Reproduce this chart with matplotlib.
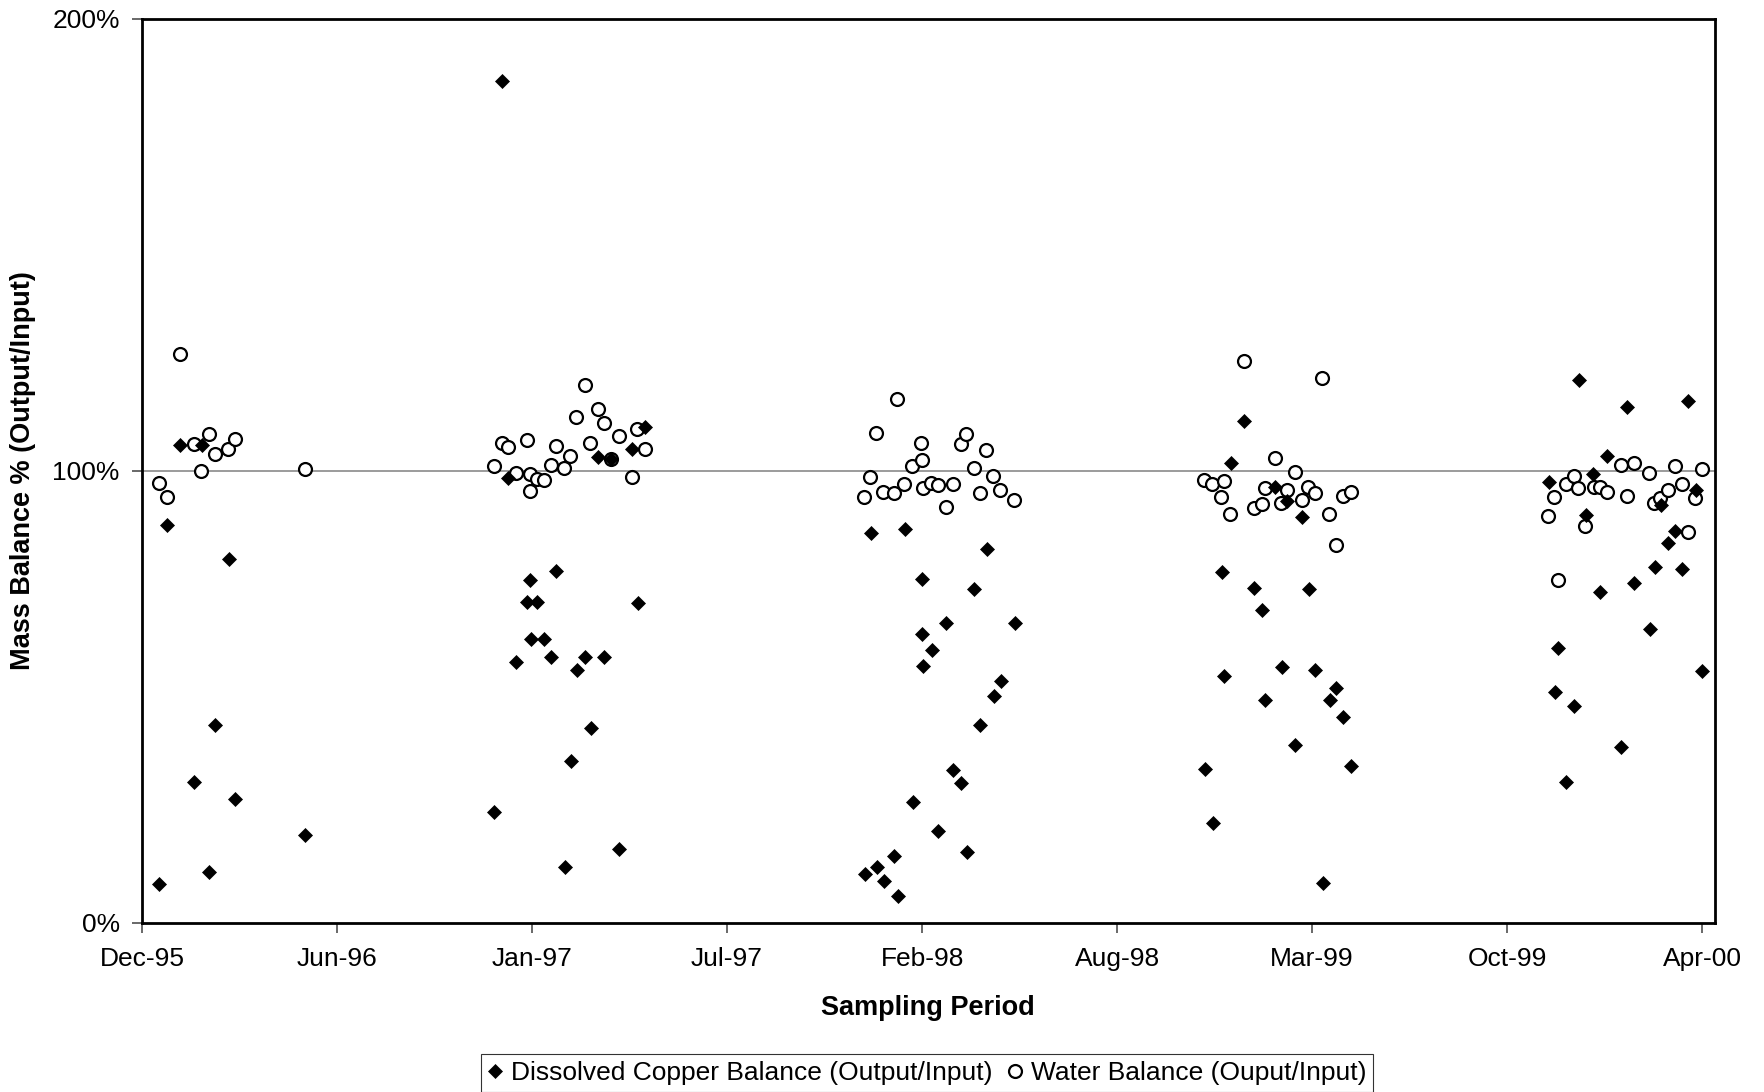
import matplotlib
matplotlib.use("Agg")
import matplotlib.pyplot as plt
import pandas as pd

plt.rcParams['font.family'] = ['Liberation Sans', 'DejaVu Sans']

# ---- data (x: days since 15-Dec-1995, y: percent) ----
copper_days = [17, 25, 39, 53, 61, 68, 74, 88, 94, 165,
               357, 366, 372, 380, 391, 394, 395, 401, 408, 415, 420, 429, 436, 442, 450, 456, 463, 469, 476, 484, 497, 504, 511,
               734, 740, 746, 753, 763, 768, 775, 783, 792, 792, 793, 802, 808, 816, 823, 831, 838, 845, 851, 858, 865, 872, 886,
               1079, 1087, 1096, 1099, 1106, 1119, 1129, 1137, 1140, 1150, 1157, 1162, 1171, 1178, 1185, 1191, 1199, 1206, 1212, 1219, 1227,
               1428, 1435, 1438, 1446, 1454, 1459, 1466, 1473, 1480, 1487, 1502, 1508, 1515, 1531, 1536, 1542, 1549, 1556, 1564, 1570, 1578, 1584]
copper_pct = [8.7, 88.1, 105.8, 31.2, 105.8, 11.3, 43.7, 80.5, 27.4, 19.5,
              24.5, 186.3, 98.4, 57.8, 71.1, 75.9, 62.8, 71.1, 62.8, 58.9, 77.9, 12.3, 35.8, 55.9, 58.9, 43.1, 103.0, 58.8, 102.6, 16.3, 104.9, 70.9, 109.8,
              10.8, 86.2, 12.3, 9.4, 14.9, 6.0, 87.1, 26.8, 64.0, 76.0, 56.9, 60.4, 20.3, 66.3, 33.9, 30.9, 15.7, 74.0, 43.8, 82.7, 50.3, 53.5, 66.4,
              34.1, 22.2, 77.6, 54.7, 101.8, 111.1, 74.1, 69.2, 49.4, 96.5, 56.6, 93.4, 39.4, 89.8, 74.0, 56.0, 8.9, 49.3, 51.9, 45.5, 34.8,
              97.6, 51.2, 60.8, 31.2, 47.9, 120.1, 90.3, 99.3, 73.2, 103.3, 38.9, 114.2, 75.2, 65.1, 78.7, 92.5, 84.1, 86.8, 78.3, 115.5, 95.8, 55.8]

water_days = [17, 25, 39, 53, 60, 68, 74, 87, 94, 165,
              357, 365, 372, 380, 391, 394, 394, 401, 408, 415, 420, 428, 435, 441, 450, 455, 463, 469, 476, 484, 497, 503, 511,
              733, 739, 745, 752, 763, 767, 774, 782, 791, 792, 793, 801, 808, 816, 823, 831, 837, 845, 851, 857, 864, 871, 885,
              1078, 1086, 1095, 1099, 1105, 1119, 1129, 1137, 1140, 1150, 1156, 1162, 1171, 1178, 1184, 1191, 1198, 1205, 1212, 1219, 1227,
              1427, 1434, 1438, 1446, 1454, 1458, 1465, 1474, 1480, 1487, 1502, 1508, 1515, 1530, 1535, 1541, 1549, 1556, 1563, 1570, 1577, 1584]
water_pct = [97.3, 94.3, 125.9, 106.0, 100.1, 108.1, 103.8, 104.9, 107.0, 100.4,
             101.1, 106.1, 105.4, 99.6, 106.9, 95.6, 99.3, 98.2, 98.1, 101.4, 105.5, 100.6, 103.3, 111.9, 119.0, 106.3, 113.7, 110.7, 102.6, 107.7, 98.7, 109.3, 104.9,
             94.2, 98.7, 108.3, 95.4, 95.1, 115.9, 97.1, 101.0, 106.3, 102.4, 96.2, 97.3, 96.9, 92.0, 97.2, 106.0, 108.1, 100.7, 95.1, 104.6, 98.9, 95.9, 93.6,
             98.0, 97.1, 94.3, 97.7, 90.5, 124.4, 91.9, 92.7, 96.3, 102.9, 92.9, 95.9, 99.8, 93.6, 96.4, 95.2, 120.5, 90.4, 83.7, 94.5, 95.4,
             90.1, 94.3, 75.9, 97.1, 98.9, 96.3, 87.8, 96.4, 96.5, 95.4, 101.3, 94.5, 101.8, 99.6, 92.9, 94.0, 95.8, 101.2, 97.1, 86.4, 94.1, 100.4]

tick_labels = ['Dec-95', 'Jun-96', 'Jan-97', 'Jul-97', 'Feb-98', 'Aug-98', 'Mar-99', 'Oct-99', 'Apr-00']
y_ticks = [0, 100, 200]
y_tick_labels = ['0%', '100%', '200%']

base = pd.Timestamp('1995-12-15')
tick_step_days = 198
x_end_days = 1597

copper_x = base + pd.to_timedelta(copper_days, unit='D')
water_x = base + pd.to_timedelta(water_days, unit='D')
tick_x = [base + pd.Timedelta(days=tick_step_days * i) for i in range(len(tick_labels))]

fig = plt.figure(figsize=(17.65, 10.92), dpi=100)
ax = fig.add_axes([142 / 1765, 1 - 923 / 1092, (1715 - 142) / 1765, (923 - 19) / 1092])

ax.axhline(100, color='#808080', lw=1.1, zorder=1)

hw, = ax.plot(water_x, water_pct, linestyle='none', marker='o', markersize=9.3,
              markerfacecolor='white', markeredgecolor='black', markeredgewidth=1.6, zorder=3,
              label='Water Balance (Ouput/Input)')
hc, = ax.plot(copper_x, copper_pct, linestyle='none', marker='D', markersize=7.6,
              markerfacecolor='black', markeredgecolor='black', markeredgewidth=0.5, zorder=4,
              label='Dissolved Copper Balance (Output/Input)')

ax.set_xlim(base, base + pd.Timedelta(days=x_end_days))
ax.set_ylim(0, 200)
ax.set_xticks(tick_x)
ax.set_xticklabels(tick_labels)
ax.set_yticks(y_ticks)
ax.set_yticklabels(y_tick_labels)
ax.tick_params(axis='both', labelsize=19, length=7, width=1.1, color='#404040', direction='out')
ax.tick_params(axis='x', pad=10)
ax.tick_params(axis='y', pad=9)
for s in ax.spines.values():
    s.set_linewidth(2)
    s.set_color('black')

fig.text(928 / 1765, 1 - 1008 / 1092, 'Sampling Period', ha='center', va='center',
         fontsize=19.5, fontweight='bold')
fig.text(23 / 1765, 1 - 471 / 1092, 'Mass Balance % (Output/Input)', ha='center', va='center',
         rotation=90, fontsize=19.5, fontweight='bold')

leg = fig.legend(handles=[hc, hw], loc='center', bbox_to_anchor=(927 / 1765, 1 - 1073 / 1092),
                 ncol=2, fontsize=19, frameon=True, fancybox=False, borderpad=0.25,
                 handlelength=0.6, handletextpad=0.3, columnspacing=0.55, borderaxespad=0)
leg.get_frame().set_edgecolor('black')
leg.get_frame().set_linewidth(0.8)

fig.savefig('out.png', dpi=100)
